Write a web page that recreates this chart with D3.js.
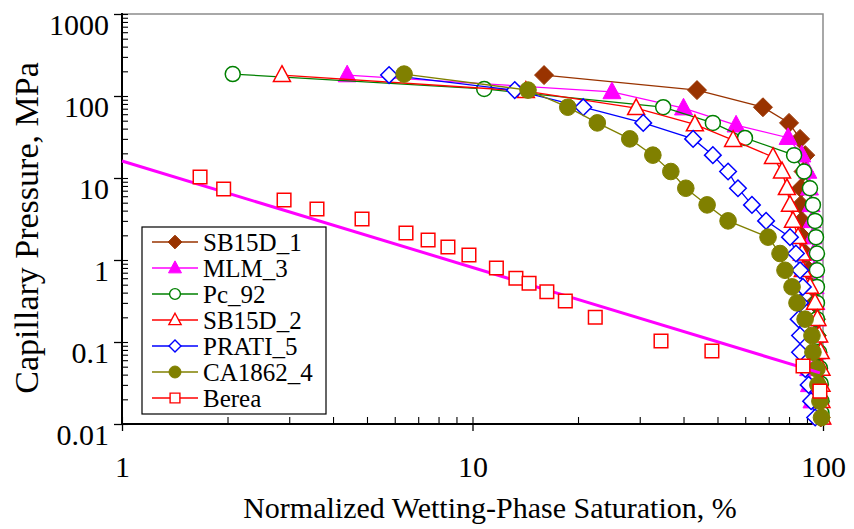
<!DOCTYPE html>
<html>
<head>
<meta charset="utf-8">
<script src="https://cdn.jsdelivr.net/npm/d3@7"></script>
<style>
  body { margin: 0; background: #fff; }
  text { font-family: "Liberation Serif", "Times New Roman", serif; fill: #000; }
</style>
</head>
<body>
<script>
    // Saturation (%) and capillary pressure (MPa)
    let sb15d1Sw = [16.0, 43.7, 67.4, 80, 86, 89, 88, 86.5, 86.5, 87, 87.5, 89, 91, 93, 94.5, 95.5, 96, 96.5, 97, 97.5, 98, 98.5];
    let sb15d1Pc = [180, 118, 73, 47, 30, 19, 12, 7.5, 4.7, 3.0, 1.9, 1.2, 0.75, 0.47, 0.30, 0.19, 0.12, 0.075, 0.047, 0.030, 0.019, 0.012];

    let mlm3Sw = [4.39, 25, 40, 56.5, 79.5, 87, 90.5, 91.5, 92.5, 93, 93.5, 94, 94.5, 95, 95.5, 96, 96.5, 96, 91, 91.5, 93, 99];
    let mlm3Pc = [180, 112, 71, 44, 31, 19, 12, 7.5, 4.7, 3.0, 1.9, 1.2, 0.75, 0.47, 0.30, 0.19, 0.12, 0.075, 0.047, 0.030, 0.019, 0.012];

    let pc92Sw = [2.07, 10.8, 35, 48.5, 59.9, 82.7, 88.3, 91.8, 93.6, 94.9, 95.5, 96.1, 96.1, 96.1, 96.1, 96.1, 96.5, 97.5, 98, 98.5, 99, 99];
    let pc92Pc = [185, 122, 73, 47, 30.8, 19, 12, 7.5, 4.7, 3.0, 1.9, 1.2, 0.75, 0.47, 0.30, 0.19, 0.115, 0.075, 0.048, 0.031, 0.019, 0.0136];

    let sb15d2Sw = [2.86, 14.2, 29.3, 43.1, 55.4, 72, 76.4, 78.9, 80.5, 82.1, 84.9, 87.1, 87.6, 91.8, 94.9, 96.4, 97.5, 98.5, 99, 99, 99, 99.5];
    let sb15d2Pc = [180, 115, 71, 45, 29, 18, 12, 7.5, 4.7, 3.0, 1.9, 1.2, 0.75, 0.47, 0.30, 0.19, 0.12, 0.075, 0.047, 0.030, 0.019, 0.012];

    let prati5Sw = [5.78, 13.2, 20.7, 30.7, 42.6, 48.5, 53.6, 57.2, 62.7, 68.8, 80.5, 83.7, 86, 87.6, 86, 85.2, 86, 86, 89, 91, 92.5, 95];
    let prati5Pc = [180, 118, 73, 47, 30, 19, 12, 7.5, 4.7, 3.0, 1.9, 1.2, 0.75, 0.47, 0.30, 0.19, 0.12, 0.075, 0.047, 0.030, 0.019, 0.012];

    let ca1862Sw = [6.38, 14.4, 18.7, 22.7, 28.1, 32.7, 36.8, 40.6, 46.7, 53.6, 69.7, 75.4, 77.9, 81.6, 84.3, 88.9, 93, 93.6, 96.1, 96.7, 98, 99];
    let ca1862Pc = [185, 118, 73, 47, 30, 19, 12, 7.5, 4.7, 3.0, 1.9, 1.2, 0.75, 0.47, 0.30, 0.19, 0.12, 0.075, 0.047, 0.030, 0.019, 0.012];

    let bereaSw = [1.67, 1.95, 2.90, 3.6, 4.84, 6.46, 7.47, 8.51, 9.77, 11.7, 13.3, 14.5, 16.3, 18.4, 22.4, 34.5, 48.2, 87.7, 98];
    let bereaPc = [10.3, 7.35, 5.4, 4.19, 3.16, 2.13, 1.75, 1.44, 1.15, 0.80, 0.60, 0.52, 0.41, 0.316, 0.20, 0.103, 0.0776, 0.051, 0.0252];

    // straight power-law fit drawn through the Berea data
    let fitSw = [1, 98];
    let fitPc = [16.1, 0.042];

    let xMajor = [1, 10, 100];
    let yMajor = [0.01, 0.1, 1, 10, 100, 1000];
    let yLabels = ["0.01", "0.1", "1", "10", "100", "1000"];

    let series = [
        {name: "SB15D_1", sw: sb15d1Sw, pc: sb15d1Pc, color: "#993300", shape: "diamond", filled: true, size: 9.5},
        {name: "MLM_3", sw: mlm3Sw, pc: mlm3Pc, color: "#ff00ff", shape: "triangle", filled: true, size: 9},
        {name: "Pc_92", sw: pc92Sw, pc: pc92Pc, color: "#008000", shape: "circle", filled: false, size: 7.5},
        {name: "SB15D_2", sw: sb15d2Sw, pc: sb15d2Pc, color: "#ff0000", shape: "triangle", filled: false, size: 8.5},
        {name: "PRATI_5", sw: prati5Sw, pc: prati5Pc, color: "#0000ff", shape: "diamond", filled: false, size: 8.3},
        {name: "CA1862_4", sw: ca1862Sw, pc: ca1862Pc, color: "#808000", shape: "circle", filled: true, size: 8.3},
        {name: "Berea", sw: bereaSw, pc: bereaPc, color: "#ff0000", shape: "square", filled: false, size: 6.8, noLine: true}
    ];

    let width = 854, height = 529;
    let plotLeft = 122, plotRight = 823, plotTop = 14, plotBottom = 424;

    let x = d3.scaleLog().domain([1, 100]).range([plotLeft, plotRight]);
    let y = d3.scaleLog().domain([0.01, 1000]).range([plotBottom, plotTop]);

    let svg = d3.select("body").append("svg")
        .attr("width", width)
        .attr("height", height);

    function markerPath(shape, r) {
        if (shape == "diamond") return "M0," + (-r) + "L" + r + ",0L0," + r + "L" + (-r) + ",0Z";
        if (shape == "triangle") return "M0," + (-r * 1.1) + "L" + r + "," + (r * 0.75) + "L" + (-r) + "," + (r * 0.75) + "Z";
        if (shape == "square") return "M" + (-r) + "," + (-r) + "H" + r + "V" + r + "H" + (-r) + "Z";
        return "M" + r + ",0A" + r + "," + r + " 0 1,1 " + (-r) + ",0A" + r + "," + r + " 0 1,1 " + r + ",0Z";
    }

    // frame: grey top/right, black axes
    svg.append("path")
        .attr("d", "M" + plotLeft + "," + plotTop + "H" + plotRight + "V" + plotBottom)
        .attr("fill", "none")
        .attr("stroke", "#8c8c8c")
        .attr("stroke-width", 1.5);

    // outside major ticks with labels
    let yAxis = svg.append("g")
        .attr("transform", "translate(" + plotLeft + ",0)")
        .call(d3.axisLeft(y).tickValues(yMajor).tickSize(8).tickPadding(5)
            .tickFormat(function(d, i) { return yLabels[i]; }));
    yAxis.select(".domain").remove();
    yAxis.selectAll("line").attr("stroke", "#000").attr("stroke-width", 1.3);
    yAxis.selectAll("text")
        .attr("dy", "0.68em")
        .style("font-size", "30px");

    let xAxis = svg.append("g")
        .attr("transform", "translate(0," + plotBottom + ")")
        .call(d3.axisBottom(x).tickValues(xMajor).tickSize(7)
            .tickFormat(d3.format("d")));
    xAxis.select(".domain").remove();
    xAxis.selectAll("line").attr("stroke", "#000").attr("stroke-width", 1.3);
    xAxis.selectAll("text")
        .attr("y", 33)
        .attr("dy", "0.68em")
        .style("font-size", "30px");

    // inside minor + major ticks
    let yIn = svg.append("g")
        .attr("transform", "translate(" + plotLeft + ",0)")
        .call(d3.axisRight(y).tickValues(y.ticks()).tickSize(6).tickFormat(""));
    yIn.select(".domain").remove();
    yIn.selectAll("line").attr("stroke", "#000").attr("stroke-width", 1.1);

    let xIn = svg.append("g")
        .attr("transform", "translate(0," + plotBottom + ")")
        .call(d3.axisTop(x).tickValues(x.ticks()).tickSize(7).tickFormat(""));
    xIn.select(".domain").remove();
    xIn.selectAll("line").attr("stroke", "#000").attr("stroke-width", 1.1);

    svg.append("path")
        .attr("d", "M" + plotLeft + "," + (plotTop - 1) + "V" + plotBottom + "H" + (plotRight + 1))
        .attr("fill", "none")
        .attr("stroke", "#000")
        .attr("stroke-width", 2);

    // axis titles
    svg.append("text")
        .attr("transform", "translate(38,228) rotate(-90)")
        .attr("text-anchor", "middle")
        .style("font-size", "34px")
        .text("Capillary Pressure, MPa");

    svg.append("text")
        .attr("x", 490)
        .attr("y", 518)
        .attr("text-anchor", "middle")
        .style("font-size", "30px")
        .text("Normalized Wetting-Phase Saturation, %");

    let line = d3.line()
        .x(function(d) { return x(d[0]); })
        .y(function(d) { return y(d[1]); });

    // draw each series: line then markers
    series.forEach(function(s) {
        let pts = s.sw.map(function(v, i) { return [v, s.pc[i]]; });
        let g = svg.append("g");

        if (!s.noLine) {
            g.append("path")
                .datum(pts)
                .attr("d", line)
                .attr("fill", "none")
                .attr("stroke", s.color)
                .attr("stroke-width", 1.3);
        } else {
            // fitted line sits under the Berea squares
            svg.append("path")
                .datum(fitSw.map(function(v, i) { return [v, fitPc[i]]; }))
                .attr("d", line)
                .attr("fill", "none")
                .attr("stroke", "#ff00ff")
                .attr("stroke-width", 3);
            g.raise();
        }

        g.selectAll("path.mk")
            .data(pts)
            .enter()
            .append("path")
            .attr("class", "mk")
            .attr("transform", function(d) { return "translate(" + x(d[0]) + "," + y(d[1]) + ")"; })
            .attr("d", markerPath(s.shape, s.size))
            .attr("fill", s.filled ? s.color : "#fff")
            .attr("stroke", s.color)
            .attr("stroke-width", s.filled ? 1 : 1.5);
    });

    // legend
    let legend = svg.append("g");
    legend.append("rect")
        .attr("x", 142)
        .attr("y", 227)
        .attr("width", 184)
        .attr("height", 187)
        .attr("fill", "#fff")
        .attr("stroke", "#000")
        .attr("stroke-width", 1.2);

    let rows = legend.selectAll("g.row")
        .data(series)
        .enter()
        .append("g")
        .attr("class", "row")
        .attr("transform", function(d, i) { return "translate(0," + (242 + i * 26) + ")"; });

    rows.append("line")
        .attr("x1", 152).attr("x2", 198)
        .attr("stroke", function(d) { return d.color; })
        .attr("stroke-width", 1.3);

    rows.append("path")
        .attr("transform", "translate(175,0)")
        .attr("d", function(d) { return markerPath(d.shape, d.size * 0.72); })
        .attr("fill", function(d) { return d.filled ? d.color : "#fff"; })
        .attr("stroke", function(d) { return d.color; })
        .attr("stroke-width", function(d) { return d.filled ? 1 : 1.4; });

    rows.append("text")
        .attr("x", 203)
        .attr("y", 8.5)
        .style("font-size", "25px")
        .text(function(d) { return d.name; });
</script>
</body>
</html>
